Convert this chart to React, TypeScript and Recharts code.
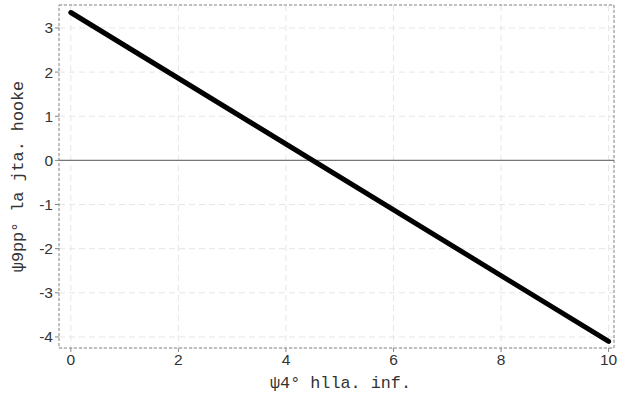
import React from 'react';
import { LineChart, Line, XAxis, YAxis, CartesianGrid, ReferenceLine, ReferenceArea } from 'recharts';

const xValues = [0, 10];
const yValues = [3.35, -4.1];
const xTicks = [0, 2, 4, 6, 8, 10];
const yTicks = [-4, -3, -2, -1, 0, 1, 2, 3];
const xLabel = 'ψ4° hlla. inf.';
const yLabel = 'ψ9pp° la jta. hooke';

const data = xValues.map((x, i) => ({ x, y: yValues[i] }));

const X_DOMAIN: [number, number] = [-0.22, 10.1];
const Y_DOMAIN: [number, number] = [-4.25, 3.52];

const YLabel = (props: any) => {
  const vb = props.viewBox;
  const cx = 18;
  const cy = vb.y + vb.height / 2;
  return (
    <text x={cx} y={cy} transform={`rotate(-90 ${cx} ${cy})`} textAnchor="middle" dominantBaseline="central"
      fontFamily="Liberation Mono, DejaVu Sans Mono, monospace" fontSize={16.8} fill="#333">
      {yLabel}
    </text>
  );
};

const XLabel = (props: any) => {
  const vb = props.viewBox;
  const cx = vb.x + vb.width / 2 + 4;
  return (
    <text x={cx} y={388} textAnchor="middle"
      fontFamily="Liberation Mono, DejaVu Sans Mono, monospace" fontSize={16.8} fill="#333">
      {xLabel}
    </text>
  );
};

export default function App() {
  return (
    <div style={{ position: 'absolute', left: 0, top: 0, background: '#fff' }}>
      <LineChart width={619} height={397} data={data} margin={{ top: 5, right: 5, left: 0, bottom: 0 }}>
        <CartesianGrid stroke="#e6e6e6" strokeDasharray="6 4" />
        <XAxis dataKey="x" type="number" domain={X_DOMAIN} ticks={xTicks} allowDataOverflow height={49}
          axisLine={false} tickLine={{ stroke: '#888' }} tickSize={4}
          tick={{ fill: '#333', fontSize: 15.5, fontFamily: 'Liberation Sans, Arial, sans-serif' }}
          label={<XLabel />} />
        <YAxis dataKey="y" type="number" domain={Y_DOMAIN} ticks={yTicks} allowDataOverflow width={59}
          axisLine={false} tickLine={{ stroke: '#888' }} tickSize={4}
          tick={{ fill: '#333', fontSize: 15.5, fontFamily: 'Liberation Sans, Arial, sans-serif' }}
          label={<YLabel />} />
        <ReferenceArea x1={X_DOMAIN[0]} x2={X_DOMAIN[1]} y1={Y_DOMAIN[0]} y2={Y_DOMAIN[1]} fill="none" fillOpacity={0}
          stroke="#888" strokeDasharray="3 2" ifOverflow="visible" />
        <ReferenceLine y={0} stroke="#777" strokeWidth={1.2} />
        <Line dataKey="y" stroke="#000" strokeWidth={5} dot={false} isAnimationActive={false} strokeLinecap="round" />
      </LineChart>
    </div>
  );
}
